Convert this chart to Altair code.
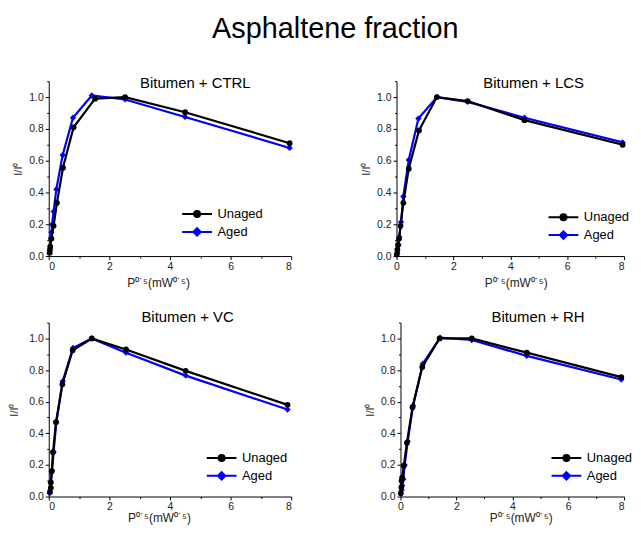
import altair as alt
import pandas as pd

FONT = "Liberation Sans"
SERIES = ["Unaged", "Aged"]
COLORS = ["#000000", "#0000ff"]

panel_titles = ["Bitumen + CTRL", "Bitumen + LCS", "Bitumen + VC", "Bitumen + RH"]

ctrl_unaged_x = [0.03, 0.04, 0.05, 0.09, 0.16, 0.27, 0.47, 0.82, 1.53, 2.52, 4.5, 7.95]
ctrl_unaged_y = [0.02, 0.04, 0.06, 0.11, 0.19, 0.335, 0.555, 0.81, 0.99, 1.0, 0.905, 0.71]
ctrl_aged_x = [0.07, 0.09, 0.11, 0.16, 0.25, 0.46, 0.8, 1.42, 2.52, 4.5, 7.95]
ctrl_aged_y = [0.11, 0.15, 0.2, 0.28, 0.42, 0.635, 0.87, 1.01, 0.985, 0.875, 0.68]

lcs_unaged_x = [0.01, 0.03, 0.05, 0.09, 0.14, 0.24, 0.43, 0.79, 1.42, 2.5, 4.5, 7.95]
lcs_unaged_y = [0.01, 0.04, 0.07, 0.11, 0.19, 0.335, 0.55, 0.79, 1.0, 0.975, 0.855, 0.70]
lcs_aged_x = [0.03, 0.07, 0.1, 0.16, 0.24, 0.43, 0.77, 1.42, 2.5, 4.5, 7.95]
lcs_aged_y = [0.02, 0.07, 0.12, 0.215, 0.375, 0.605, 0.865, 1.0, 0.97, 0.87, 0.715]

vc_unaged_x = [0.04, 0.07, 0.07, 0.1, 0.14, 0.24, 0.45, 0.79, 1.42, 2.55, 4.52, 7.88]
vc_unaged_y = [0.03, 0.055, 0.09, 0.16, 0.28, 0.47, 0.71, 0.925, 1.0, 0.93, 0.795, 0.58]
vc_aged_x = [0.03, 0.11, 0.16, 0.25, 0.46, 0.8, 1.42, 2.55, 4.52, 7.88]
vc_aged_y = [0.02, 0.165, 0.28, 0.47, 0.73, 0.94, 1.0, 0.91, 0.765, 0.55]

rh_unaged_x = [0.01, 0.03, 0.04, 0.06, 0.12, 0.23, 0.43, 0.78, 1.4, 2.55, 4.52, 7.9]
rh_unaged_y = [0.02, 0.06, 0.1, 0.12, 0.195, 0.34, 0.565, 0.82, 1.0, 1.0, 0.91, 0.755]
rh_aged_x = [0.04, 0.06, 0.1, 0.15, 0.26, 0.45, 0.8, 1.42, 2.55, 4.52, 7.9]
rh_aged_y = [0.04, 0.07, 0.11, 0.2, 0.35, 0.575, 0.84, 1.005, 0.99, 0.89, 0.74]

x_major_ticks = [0, 2, 4, 6, 8]
x_minor_ticks = [1, 3, 5, 7]
y_major_ticks = [0.0, 0.2, 0.4, 0.6, 0.8, 1.0]
y_minor_ticks = [0.1, 0.3, 0.5, 0.7, 0.9, 1.1]

X_TITLE = "P⁰˙⁵(mW⁰˙⁵)"
Y_TITLE = "I/I⁰"

SHAPE_UN = "M-5,0L5,0M1,0A1,1,0,1,1,-1,0A1,1,0,1,1,1,0Z"
SHAPE_AG = "M-5,0L5,0M0,-1.25L1.25,0L0,1.25L-1.25,0Z"


def make_df(ux, uy, ax, ay):
    rows = []
    for i, (x, y) in enumerate(zip(ux, uy)):
        rows.append({"series": "Unaged", "x": x, "y": y, "idx": i})
    for i, (x, y) in enumerate(zip(ax, ay)):
        rows.append({"series": "Aged", "x": x, "y": y, "idx": i})
    return pd.DataFrame(rows)


def panel(title, df, p):
    xs = alt.Scale(domain=[0, 8], nice=False, zero=False)
    ys = alt.Scale(domain=[0, 1.1], nice=False, zero=False)
    x_kw = {}
    if p["flush8"]:
        x_kw["labelAlign"] = {"expr": "datum.value == 8 ? 'right' : 'center'"}
    x_axis = alt.Axis(values=x_major_ticks, format="d", title=X_TITLE, orient="bottom",
                      titleX=p["tx"], titlePadding=p["xtpad"], grid=False, **x_kw)
    y_axis = alt.Axis(values=y_major_ticks, format=".1f", title=Y_TITLE, orient="left",
                      titlePadding=p["typad"], grid=False, titleFontSize=11)
    x_minor = alt.Axis(values=x_minor_ticks, labels=False, title=None, domain=False,
                       tickSize=2, orient="bottom", grid=False)
    y_minor = alt.Axis(values=y_minor_ticks, labels=False, title=None, domain=False,
                       tickSize=2, orient="left", grid=False)
    base = alt.Chart(df)
    aged = base.transform_filter(alt.datum.series == "Aged")
    unaged = base.transform_filter(alt.datum.series == "Unaged")

    ag_line = aged.mark_line(color="#0000ff", strokeWidth=2.2).encode(
        x=alt.X("x:Q", scale=xs, axis=x_axis),
        y=alt.Y("y:Q", scale=ys, axis=y_axis),
        order="idx:Q")
    ag_pts = aged.mark_point(shape="diamond", filled=True, color="#0000ff", size=40, opacity=1).encode(
        x=alt.X("x:Q", scale=xs, axis=None), y=alt.Y("y:Q", scale=ys, axis=None))
    un_line = unaged.mark_line(color="#000000", strokeWidth=2.2).encode(
        x=alt.X("x:Q", scale=xs, axis=None), y=alt.Y("y:Q", scale=ys, axis=None), order="idx:Q")
    un_pts = unaged.mark_point(shape="circle", filled=True, color="#000000", size=34, opacity=1).encode(
        x=alt.X("x:Q", scale=xs, axis=None), y=alt.Y("y:Q", scale=ys, axis=None))
    minor = base.transform_filter("false").mark_point(opacity=0).encode(
        x=alt.X("x:Q", scale=xs, axis=x_minor), y=alt.Y("y:Q", scale=ys, axis=y_minor))

    leg = alt.Legend(title=None, orient="none", legendX=p["lx"], legendY=p["ly"],
                     symbolSize=36, symbolStrokeWidth=2, labelFontSize=13, labelFont=FONT,
                     labelOffset=14, rowPadding=2, labelColor="#000000")
    legend_layer = base.transform_filter("false").mark_point(filled=True, opacity=1, strokeWidth=2).encode(
        shape=alt.Shape("series:N", scale=alt.Scale(domain=SERIES, range=[SHAPE_UN, SHAPE_AG]), legend=leg),
        fill=alt.Fill("series:N", scale=alt.Scale(domain=SERIES, range=COLORS), legend=leg),
        stroke=alt.Stroke("series:N", scale=alt.Scale(domain=SERIES, range=COLORS), legend=leg))

    return alt.layer(ag_line, ag_pts, un_line, un_pts, minor, legend_layer).resolve_axis(
        x="independent", y="independent").properties(
        width=p["w"], height=p["h"],
        title=alt.TitleParams(title, fontSize=15, font=FONT, fontWeight="normal", color="#000000",
                              anchor="middle", dx=p["dx"], dy=p["dy"], offset=0))


dfs = [
    make_df(ctrl_unaged_x, ctrl_unaged_y, ctrl_aged_x, ctrl_aged_y),
    make_df(lcs_unaged_x, lcs_unaged_y, lcs_aged_x, lcs_aged_y),
    make_df(vc_unaged_x, vc_unaged_y, vc_aged_x, vc_aged_y),
    make_df(rh_unaged_x, rh_unaged_y, rh_aged_x, rh_aged_y),
]
params = [
    {"w": 244, "h": 176, "flush8": False, "tx": 110, "xtpad": 6, "typad": 5,
     "lx": 142.8, "ly": 127.2, "dx": 25.5, "dy": 10},
    {"w": 229, "h": 176, "flush8": True, "tx": 120, "xtpad": 6, "typad": 5,
     "lx": 161.5, "ly": 130.4, "dx": 23.5, "dy": 10},
    {"w": 244, "h": 175, "flush8": False, "tx": 111, "xtpad": 0, "typad": 9.5,
     "lx": 167.5, "ly": 129.7, "dx": 17.7, "dy": 3},
    {"w": 225, "h": 175, "flush8": True, "tx": 121, "xtpad": 0, "typad": 5,
     "lx": 160.5, "ly": 129.7, "dx": 25.9, "dy": 3},
]
panels = [panel(t, d, p) for t, d, p in zip(panel_titles, dfs, params)]

res = dict(x="independent", y="independent", fill="independent", stroke="independent", shape="independent")
top = alt.hconcat(panels[0], panels[1], spacing=66).resolve_scale(**res)
bottom = alt.hconcat(panels[2], panels[3], spacing=72).resolve_scale(**res)
chart = alt.vconcat(top, bottom, spacing=21).resolve_scale(**res).properties(
    padding={"left": 0, "top": 5, "right": 0, "bottom": 0},
    background="white",
    title=alt.TitleParams("Asphaltene fraction", fontSize=29, font=FONT, fontWeight="normal",
                          color="#000000", anchor="middle", dx=15, offset=32),
).configure_view(stroke=None).configure_axis(
    labelFont=FONT, titleFont=FONT, labelFontSize=10.5, titleFontSize=12,
    labelColor="#222222", titleColor="#222222", titleFontWeight="normal",
    domainColor="#000000", tickColor="#000000", tickSize=3.5, labelPadding=2,
    domainWidth=1, tickWidth=1,
)

chart.save("out.html", embed_options={"renderer": "svg", "actions": False})
